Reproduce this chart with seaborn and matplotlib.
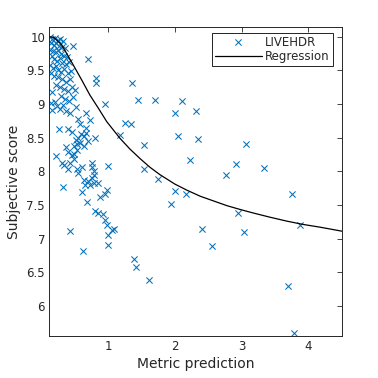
import matplotlib
matplotlib.use("Agg")
import matplotlib.pyplot as plt
import seaborn as sns
import pandas as pd

# scatter points: metric prediction vs subjective score
metric_x = [
    0.13, 0.16, 0.20, 0.24, 0.28, 0.32,
    0.14, 0.18, 0.22, 0.26, 0.30, 0.35, 0.47,
    0.13, 0.17, 0.21, 0.25, 0.29, 0.33, 0.38,
    0.15, 0.19, 0.23, 0.27, 0.31, 0.36, 0.41, 0.70,
    0.13, 0.17, 0.21, 0.25, 0.29, 0.34, 0.39, 0.44,
    0.14, 0.19, 0.24, 0.30, 0.36, 0.42, 0.81, 0.82,
    0.22, 0.28, 0.33, 0.39, 0.45, 0.50,
    0.15, 0.29, 0.35, 0.41, 0.47, 0.95,
    0.14, 0.16, 0.20, 0.23, 0.27, 0.32, 0.37, 0.43, 0.52,
    0.66, 0.73, 0.54, 0.58,
    0.26, 0.39, 0.46, 0.59, 0.54, 0.52, 0.66, 0.66, 0.80, 0.63,
    0.36, 0.48, 0.53, 0.58, 0.64, 0.70,
    0.22, 0.40, 0.45, 0.48, 0.53,
    0.30, 0.34, 0.48, 0.43, 0.39, 0.53, 0.60, 0.75, 0.75, 1.00,
    0.54, 0.78, 0.78, 0.63, 0.70, 0.65, 0.73, 0.78, 0.85, 0.75,
    0.32, 0.60, 0.98, 0.95, 0.88, 0.68,
    0.80, 0.85, 0.92, 0.95, 0.98, 1.05, 1.09, 1.00, 0.42, 1.00, 0.62,
    1.36, 1.45, 1.70, 2.11, 2.00, 2.31, 1.25, 1.34, 1.18, 2.04, 2.35,
    3.06, 1.54, 2.23, 2.91, 3.33, 1.54, 2.76, 1.74, 2.00, 2.16, 3.75,
    1.94, 2.95, 3.88, 2.40, 3.03, 2.55, 1.38, 1.41, 1.61, 3.69, 3.78,
]
subjective_y = [
    9.99, 9.96, 9.98, 9.95, 9.97, 9.93,
    9.91, 9.88, 9.90, 9.86, 9.85, 9.83, 9.87,
    9.81, 9.79, 9.77, 9.80, 9.74, 9.72, 9.70,
    9.71, 9.67, 9.64, 9.68, 9.61, 9.59, 9.63, 9.67,
    9.58, 9.54, 9.57, 9.51, 9.48, 9.52, 9.46, 9.49,
    9.46, 9.42, 9.40, 9.37, 9.33, 9.37, 9.38, 9.31,
    9.29, 9.26, 9.22, 9.19, 9.25, 9.21,
    9.18, 9.12, 9.08, 9.05, 9.10, 9.00,
    9.01, 8.91, 9.03, 8.97, 8.93, 8.99, 8.90, 8.86, 8.95,
    8.87, 8.77, 8.78, 8.70,
    8.63, 8.63, 8.58, 8.55, 8.50, 8.46, 8.65, 8.57, 8.50, 8.52,
    8.36, 8.37, 8.40, 8.42, 8.38, 8.45,
    8.23, 8.29, 8.24, 8.26, 8.31,
    8.13, 8.09, 8.19, 8.12, 8.03, 8.04, 8.07, 8.12, 8.07, 8.08,
    7.98, 8.01, 7.95, 7.87, 7.85, 7.80, 7.80, 7.82, 7.83, 7.90,
    7.77, 7.70, 7.72, 7.67, 7.62, 7.55,
    7.41, 7.38, 7.37, 7.28, 7.20, 7.13, 7.15, 7.05, 7.12, 6.90, 6.82,
    9.31, 9.06, 9.06, 9.04, 8.86, 8.89, 8.72, 8.70, 8.54, 8.53, 8.48,
    8.41, 8.39, 8.17, 8.11, 8.05, 8.03, 7.94, 7.89, 7.71, 7.66, 7.66,
    7.51, 7.38, 7.20, 7.14, 7.10, 6.89, 6.70, 6.58, 6.39, 6.30, 5.60,
]

# regression curve, sampled from the chart
curve_x = [0.115, 0.18, 0.226, 0.30, 0.376, 0.475, 0.60, 0.726, 0.85, 0.976,
           1.176, 1.326, 1.476, 1.626, 1.776, 2.0, 2.18, 2.38, 2.58, 2.78,
           2.99, 3.18, 3.42, 3.68, 3.93, 4.18, 4.51]
curve_y = [10.0, 9.99, 9.95, 9.88, 9.75, 9.58, 9.36, 9.13, 8.94, 8.74,
           8.49, 8.33, 8.19, 8.06, 7.95, 7.81, 7.72, 7.63, 7.56, 7.49,
           7.43, 7.38, 7.32, 7.26, 7.21, 7.17, 7.11]

x_ticks = [1, 2, 3, 4]
y_ticks = [6, 6.5, 7, 7.5, 8, 8.5, 9, 9.5, 10]
y_tick_labels = ["6", "6.5", "7", "7.5", "8", "8.5", "9", "9.5", "10"]

pts = pd.DataFrame({"x": metric_x, "y": subjective_y})
reg = pd.DataFrame({"x": curve_x, "y": curve_y})

sns.set_style("white")
plt.rcParams["font.family"] = ["DejaVu Sans"]
txt = "#262626"

fig = plt.figure(figsize=(3.78, 3.78), dpi=100)
ax = fig.add_axes([0.1304, 0.111, 0.7751, 0.8167])

sns.scatterplot(data=pts, x="x", y="y", marker="x", color="#0072BD", s=20,
                linewidth=0.75, label="LIVEHDR", ax=ax)
sns.lineplot(data=reg, x="x", y="y", color="black", linewidth=0.9,
             label="Regression", sort=False, ax=ax)

ax.set_xlim(0.115, 4.51)
ax.set_ylim(5.553, 10.14)
ax.set_xticks(x_ticks)
ax.set_xticklabels([str(t) for t in x_ticks])
ax.set_yticks(y_ticks)
ax.set_yticklabels(y_tick_labels)
ax.tick_params(direction="in", length=3.5, width=0.6, top=True, right=True,
               labelsize=8.5, colors=txt, pad=3)
for sp in ax.spines.values():
    sp.set_visible(True)
    sp.set_color(txt)
    sp.set_linewidth(0.7)

ax.set_xlabel("Metric prediction", fontsize=10, color=txt, labelpad=3)
ax.set_ylabel("Subjective score", fontsize=10, color=txt, labelpad=4)

leg = ax.legend(loc="upper right", bbox_to_anchor=(0.968, 0.983), borderaxespad=0,
                fontsize=8.5, frameon=True, fancybox=False, framealpha=1,
                edgecolor="black", handlelength=4.0, handletextpad=0.3,
                borderpad=0.25, labelspacing=0.15)
leg.get_frame().set_linewidth(0.6)
for t in leg.get_texts():
    t.set_color(txt)

fig.savefig("out.png", dpi=100)
